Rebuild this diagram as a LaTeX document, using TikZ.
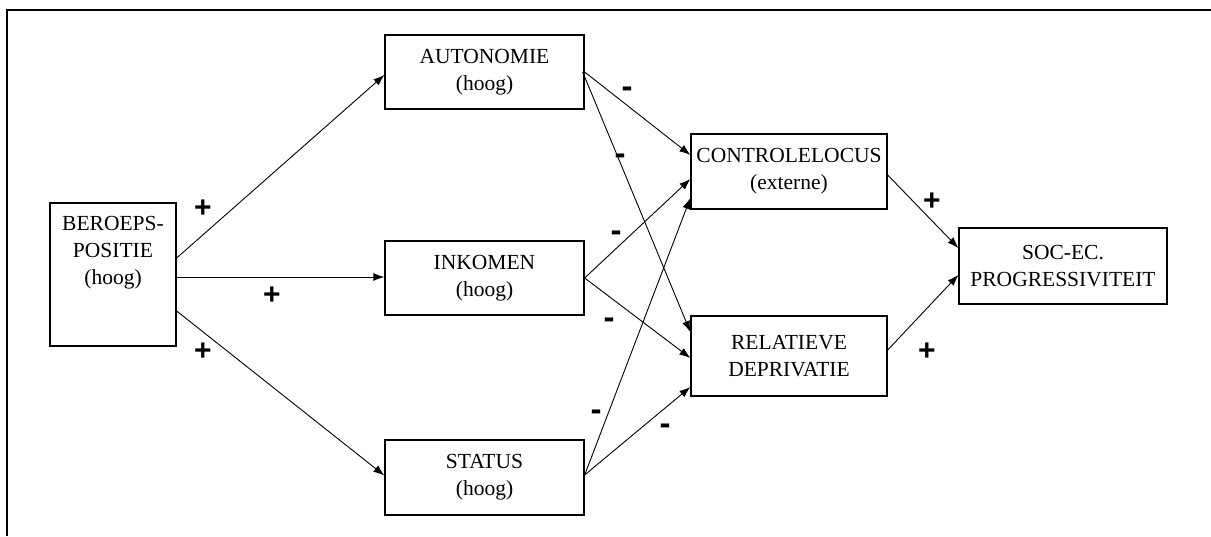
\documentclass[tikz,border=0pt]{standalone}
\usepackage{fontspec}
\setmainfont{Liberation Serif}
\newfontfamily\signfont{Liberation Sans}
\usetikzlibrary{arrows.meta}
\begin{document}
\begin{tikzpicture}[x=1pt,y=-1pt,
  varbox/.style={draw,line width=1.3pt,rectangle,inner sep=0pt,align=center,
    font=\fontsize{21.5}{27}\selectfont},
  conn/.style={line width=0.9pt,-{Latex[length=11pt,width=8pt]}},
  sign/.style={font=\signfont\bfseries\fontsize{30}{30}\selectfont,inner sep=0pt},
  minus/.style={font=\signfont\bfseries\fontsize{33}{33}\selectfont,inner sep=0pt}]
\useasboundingbox (0,0) rectangle (1211,536);
\draw[line width=1.8pt] (7,536) -- (7,10) -- (1211,10);

\node[varbox,minimum width=126pt,minimum height=143pt] (beroeps) at (113,274.5) {};
\node[anchor=north,inner sep=0pt,align=center,font=\fontsize{21.5}{27}\selectfont] (beroepstxt) at (113,216) {BEROEPS-\\POSITIE\\(hoog)};

\node[varbox,minimum width=199pt,minimum height=74pt] (auto) at (484.5,72) {AUTONOMIE\\(hoog)};
\node[varbox,minimum width=199pt,minimum height=74pt] (inko) at (484.5,278) {INKOMEN\\(hoog)};
\node[varbox,minimum width=199pt,minimum height=75pt] (stat) at (484.5,477.5) {STATUS\\(hoog)};
\node[varbox,minimum width=196pt,minimum height=75pt] (cont) at (789,171.5) {CONTROLELOCUS\\(externe)};
\node[varbox,minimum width=196pt,minimum height=80pt] (rela) at (789,356) {RELATIEVE\\DEPRIVATIE};
\node[varbox,minimum width=208pt,minimum height=76pt] (soce) at (1063,266) {SOC-EC.\\PROGRESSIVITEIT};

\draw[conn] ([yshift=16.5pt]beroeps.east) -- ([yshift=-3pt]auto.west);
\draw[conn] ([yshift=-2.5pt]beroeps.east) -- ([yshift=1pt]inko.west);
\draw[conn] ([yshift=-36.5pt]beroeps.east) -- ([yshift=2pt]stat.west);

\draw[conn] (auto.east) -- ([yshift=16.5pt]cont.west);
\draw[conn] ([xshift=-2pt]auto.east) -- ([yshift=24pt]rela.west);
\draw[conn] (inko.east) -- ([yshift=-7.5pt]cont.west);
\draw[conn] (inko.east) -- ([yshift=-2pt]rela.west);
\draw[conn] ([yshift=2.5pt]stat.east) -- ([yshift=-26.5pt]cont.west);
\draw[conn] ([yshift=2.5pt]stat.east) -- ([yshift=-31pt]rela.west);

\draw[conn] ([yshift=-3.5pt]cont.east) -- ([yshift=18pt]soce.west);
\draw[conn] ([yshift=6pt]rela.east) -- ([yshift=-9pt]soce.west);

\node[sign] (p1) at (203,209) {+};
\node[sign] (p2) at (272,296) {+};
\node[sign] (p3) at (203,352) {+};
\node[sign] (p4) at (932,202) {+};
\node[sign] (p5) at (927,352) {+};
\node[minus] (m1) at (627,92) {-};
\node[minus] (m2) at (620,159) {-};
\node[minus] (m3) at (616,236) {-};
\node[minus] (m4) at (609,323) {-};
\node[minus] (m5) at (596,415) {-};
\node[minus] (m6) at (665,429) {-};
\end{tikzpicture}
\end{document}
